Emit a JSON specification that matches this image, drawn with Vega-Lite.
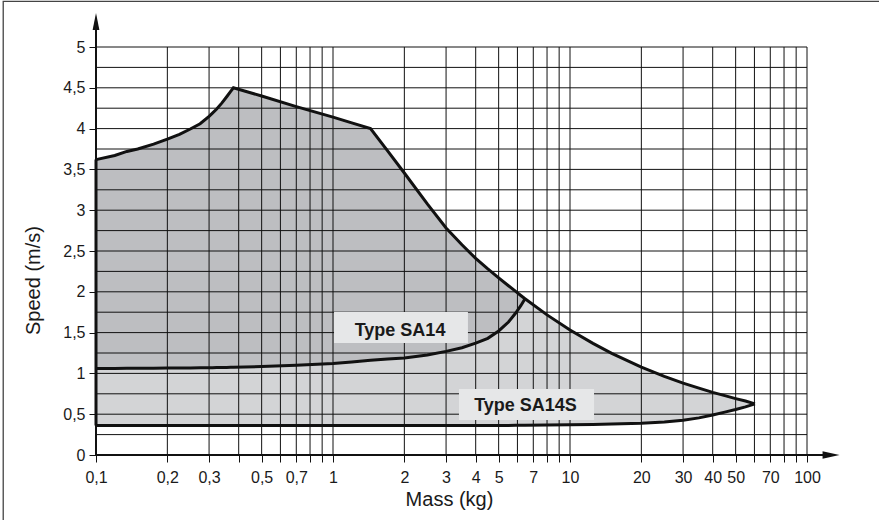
{
  "$schema": "https://vega.github.io/schema/vega-lite/v6.json",
  "autosize": "none",
  "width": 711,
  "height": 408,
  "padding": {"left": 96, "top": 47, "right": 72, "bottom": 65},
  "config": {"view": {"stroke": null}, "font": "Liberation Sans"},
  "datasets": {
    "curve": [
      {"m": 0.1, "top": 3.62, "bot": 0.36, "low": 1.06},
      {"m": 0.12, "top": 3.67, "bot": 0.36, "low": 1.061},
      {"m": 0.135, "top": 3.72, "bot": 0.36, "low": 1.062},
      {"m": 0.15, "top": 3.75, "bot": 0.36, "low": 1.062},
      {"m": 0.175, "top": 3.81, "bot": 0.36, "low": 1.063},
      {"m": 0.2, "top": 3.87, "bot": 0.36, "low": 1.065},
      {"m": 0.225, "top": 3.93, "bot": 0.36, "low": 1.066},
      {"m": 0.25, "top": 3.995, "bot": 0.36, "low": 1.067},
      {"m": 0.275, "top": 4.06, "bot": 0.36, "low": 1.068},
      {"m": 0.3, "top": 4.15, "bot": 0.36, "low": 1.07},
      {"m": 0.31, "top": 4.19, "bot": 0.36, "low": 1.07},
      {"m": 0.323, "top": 4.24, "bot": 0.36, "low": 1.071},
      {"m": 0.34, "top": 4.315, "bot": 0.36, "low": 1.072},
      {"m": 0.356, "top": 4.39, "bot": 0.36, "low": 1.073},
      {"m": 0.37, "top": 4.455, "bot": 0.36, "low": 1.074},
      {"m": 0.38, "top": 4.5, "bot": 0.36, "low": 1.075},
      {"m": 0.5, "top": 4.4, "bot": 0.36, "low": 1.085},
      {"m": 0.7, "top": 4.27, "bot": 0.36, "low": 1.1},
      {"m": 1, "top": 4.14, "bot": 0.36, "low": 1.12},
      {"m": 1.2, "top": 4.07, "bot": 0.36, "low": 1.14},
      {"m": 1.44, "top": 4.0, "bot": 0.36, "low": 1.16},
      {"m": 1.7, "top": 3.727, "bot": 0.36, "low": 1.175},
      {"m": 2, "top": 3.456, "bot": 0.36, "low": 1.19},
      {"m": 2.5, "top": 3.077, "bot": 0.36, "low": 1.225},
      {"m": 3, "top": 2.782, "bot": 0.36, "low": 1.27},
      {"m": 3.5, "top": 2.577, "bot": 0.361, "low": 1.315},
      {"m": 4, "top": 2.409, "bot": 0.362, "low": 1.37},
      {"m": 4.5, "top": 2.28, "bot": 0.362, "low": 1.43},
      {"m": 5, "top": 2.17, "bot": 0.363, "low": 1.52},
      {"m": 5.5, "top": 2.074, "bot": 0.363, "low": 1.63},
      {"m": 5.9, "top": 2.005, "bot": 0.364, "low": 1.74},
      {"m": 6.2, "top": 1.955, "bot": 0.364, "low": 1.83},
      {"m": 6.46, "top": 1.915, "bot": 0.365, "low": 1.915},
      {"m": 8, "top": 1.717, "bot": 0.367},
      {"m": 10, "top": 1.531, "bot": 0.37},
      {"m": 12.5, "top": 1.368, "bot": 0.375},
      {"m": 15, "top": 1.246, "bot": 0.38},
      {"m": 20, "top": 1.077, "bot": 0.39},
      {"m": 25, "top": 0.964, "bot": 0.405},
      {"m": 30, "top": 0.881, "bot": 0.425},
      {"m": 35, "top": 0.819, "bot": 0.455},
      {"m": 40, "top": 0.768, "bot": 0.49},
      {"m": 45, "top": 0.727, "bot": 0.525},
      {"m": 50, "top": 0.691, "bot": 0.557},
      {"m": 55, "top": 0.661, "bot": 0.59},
      {"m": 60.3, "top": 0.627, "bot": 0.627}
    ],
    "xgrid": [
      {"m": 0.1}, {"m": 0.2}, {"m": 0.3}, {"m": 0.4}, {"m": 0.5}, {"m": 0.6}, {"m": 0.7}, {"m": 0.8}, {"m": 0.9},
      {"m": 1}, {"m": 2}, {"m": 3}, {"m": 4}, {"m": 5}, {"m": 6}, {"m": 7}, {"m": 8}, {"m": 9},
      {"m": 10}, {"m": 20}, {"m": 30}, {"m": 40}, {"m": 50}, {"m": 60}, {"m": 70}, {"m": 80}, {"m": 90}, {"m": 100}
    ],
    "ygrid": [
      {"v": 0}, {"v": 0.25}, {"v": 0.5}, {"v": 0.75}, {"v": 1}, {"v": 1.25}, {"v": 1.5}, {"v": 1.75}, {"v": 2},
      {"v": 2.25}, {"v": 2.5}, {"v": 2.75}, {"v": 3}, {"v": 3.25}, {"v": 3.5}, {"v": 3.75}, {"v": 4},
      {"v": 4.25}, {"v": 4.5}, {"v": 4.75}, {"v": 5}
    ]
  },
  "layer": [
    {
      "data": {"name": "curve"},
      "mark": {"type": "area", "fill": "#d3d4d6", "opacity": 1},
      "encoding": {
        "x": {
          "field": "m", "type": "quantitative",
          "scale": {"type": "log", "domain": [0.1, 100], "nice": false},
          "axis": {
            "values": [0.1, 0.2, 0.3, 0.4, 0.5, 0.6, 0.7, 0.8, 0.9, 1, 2, 3, 4, 5, 6, 7, 8, 9, 10, 20, 30, 40, 50, 60, 70, 80, 90, 100],
            "labelExpr": "indexof([0.1, 0.2, 0.3, 0.5, 0.7, 1, 2, 3, 4, 5, 7, 10, 20, 30, 40, 50, 70, 100], datum.value) >= 0 ? replace(toString(datum.value), '.', ',') : ''",
            "title": "Mass (kg)",
            "grid": false, "domain": false,
            "tickSize": 7, "tickColor": "#111", "tickWidth": 1,
            "labelFont": "Liberation Sans", "labelFontSize": 16, "labelColor": "#1a1a1a",
            "labelPadding": 7, "labelOverlap": false, "labelFlush": false,
            "titleFont": "Liberation Sans", "titleFontSize": 20, "titleFontWeight": "normal", "titleColor": "#1a1a1a",
            "titleX": 353, "titleY": 50.5, "titleBaseline": "alphabetic", "titleAlign": "center"
          }
        },
        "y": {
          "field": "top", "type": "quantitative",
          "scale": {"domain": [0, 5], "nice": false, "zero": false},
          "axis": {
            "values": [0, 0.25, 0.5, 0.75, 1, 1.25, 1.5, 1.75, 2, 2.25, 2.5, 2.75, 3, 3.25, 3.5, 3.75, 4, 4.25, 4.5, 4.75, 5],
            "labelExpr": "datum.value % 0.5 == 0 ? replace(toString(datum.value), '.', ',') : ''",
            "title": "Speed (m/s)",
            "grid": false, "domain": false,
            "tickSize": 7, "tickColor": "#111", "tickWidth": 1,
            "labelFont": "Liberation Sans", "labelFontSize": 16, "labelColor": "#1a1a1a",
            "labelPadding": 4, "labelOverlap": false,
            "titleFont": "Liberation Sans", "titleFontSize": 20, "titleFontWeight": "normal", "titleColor": "#1a1a1a",
            "titleAngle": 270, "titleX": -57, "titleY": 233, "titleBaseline": "alphabetic", "titleAlign": "center"
          }
        },
        "y2": {"field": "bot"}
      }
    },
    {
      "data": {"name": "curve"},
      "transform": [{"filter": "isValid(datum.low)"}],
      "mark": {"type": "area", "fill": "#bdbec1", "opacity": 1},
      "encoding": {
        "x": {"field": "m", "type": "quantitative"},
        "y": {"field": "top", "type": "quantitative"},
        "y2": {"field": "low"}
      }
    },
    {
      "data": {"name": "xgrid"},
      "mark": {"type": "rule", "color": "#111", "strokeWidth": 1},
      "encoding": {"x": {"field": "m", "type": "quantitative"}}
    },
    {
      "data": {"name": "ygrid"},
      "mark": {"type": "rule", "color": "#111", "strokeWidth": 1},
      "encoding": {"y": {"field": "v", "type": "quantitative"}}
    },
    {
      "data": {"name": "curve"},
      "mark": {"type": "line", "color": "#111", "strokeWidth": 3, "strokeJoin": "miter"},
      "encoding": {
        "x": {"field": "m", "type": "quantitative"},
        "y": {"field": "top", "type": "quantitative"}
      }
    },
    {
      "data": {"name": "curve"},
      "mark": {"type": "line", "color": "#111", "strokeWidth": 3},
      "encoding": {
        "x": {"field": "m", "type": "quantitative"},
        "y": {"field": "bot", "type": "quantitative"}
      }
    },
    {
      "data": {"name": "curve"},
      "transform": [{"filter": "isValid(datum.low)"}],
      "mark": {"type": "line", "color": "#111", "strokeWidth": 3},
      "encoding": {
        "x": {"field": "m", "type": "quantitative"},
        "y": {"field": "low", "type": "quantitative"}
      }
    },
    {
      "data": {"values": [{}]},
      "mark": {"type": "rule", "color": "#111", "strokeWidth": 3},
      "encoding": {
        "x": {"datum": 0.1, "type": "quantitative"},
        "y": {"datum": 0.36, "type": "quantitative"},
        "y2": {"datum": 3.62}
      }
    },
    {
      "data": {"values": [{}]},
      "mark": {"type": "rule", "color": "#111", "strokeWidth": 2},
      "encoding": {
        "x": {"datum": 0.1, "type": "quantitative"},
        "y": {"datum": 0, "type": "quantitative"},
        "y2": {"datum": 5.233}
      }
    },
    {
      "data": {"values": [{}]},
      "mark": {"type": "rule", "color": "#111", "strokeWidth": 2},
      "encoding": {
        "x": {"datum": 0.1, "type": "quantitative"},
        "x2": {"datum": 117.9},
        "y": {"datum": 0, "type": "quantitative"}
      }
    },
    {
      "data": {"values": [{}]},
      "mark": {"type": "point", "shape": "M0,-1L0.4,1L-0.4,1Z", "filled": true, "color": "#111", "opacity": 1, "size": 289},
      "encoding": {
        "x": {"datum": 0.1, "type": "quantitative"},
        "y": {"datum": 5.312, "type": "quantitative"}
      }
    },
    {
      "data": {"values": [{}]},
      "mark": {"type": "point", "shape": "M1,0L-1,-0.45L-1,0.45Z", "filled": true, "color": "#111", "opacity": 1, "size": 289},
      "encoding": {
        "x": {"datum": 126.3, "type": "quantitative"},
        "y": {"datum": 0, "type": "quantitative"}
      }
    },
    {
      "data": {"values": [{}]},
      "mark": {"type": "rect", "fill": "#e6e7e8", "opacity": 1},
      "encoding": {
        "x": {"datum": 1.01, "type": "quantitative"},
        "x2": {"datum": 3.71},
        "y": {"datum": 1.373, "type": "quantitative"},
        "y2": {"datum": 1.752}
      }
    },
    {
      "data": {"values": [{}]},
      "mark": {"type": "rect", "fill": "#e6e7e8", "opacity": 1},
      "encoding": {
        "x": {"datum": 3.4, "type": "quantitative"},
        "x2": {"datum": 12.63},
        "y": {"datum": 0.429, "type": "quantitative"},
        "y2": {"datum": 0.809}
      }
    },
    {
      "data": {"values": [{"label": "Type SA14"}]},
      "mark": {"type": "text", "font": "Liberation Sans", "fontSize": 18, "fontWeight": "bold", "color": "#1a1a1a", "align": "center", "baseline": "alphabetic"},
      "encoding": {
        "x": {"datum": 1.918, "type": "quantitative"},
        "y": {"datum": 1.458, "type": "quantitative"},
        "text": {"field": "label"}
      }
    },
    {
      "data": {"values": [{"label": "Type SA14S"}]},
      "mark": {"type": "text", "font": "Liberation Sans", "fontSize": 18, "fontWeight": "bold", "color": "#1a1a1a", "align": "center", "baseline": "alphabetic"},
      "encoding": {
        "x": {"datum": 6.49, "type": "quantitative"},
        "y": {"datum": 0.539, "type": "quantitative"},
        "text": {"field": "label"}
      }
    },
    {
      "data": {"values": [{}]},
      "mark": {"type": "rect", "filled": false, "stroke": "#444", "strokeWidth": 1.3},
      "encoding": {
        "x": {"datum": 0.0406, "type": "quantitative"},
        "x2": {"datum": 1000},
        "y": {"datum": 5.558, "type": "quantitative"},
        "y2": {"datum": -2}
      }
    }
  ]
}
